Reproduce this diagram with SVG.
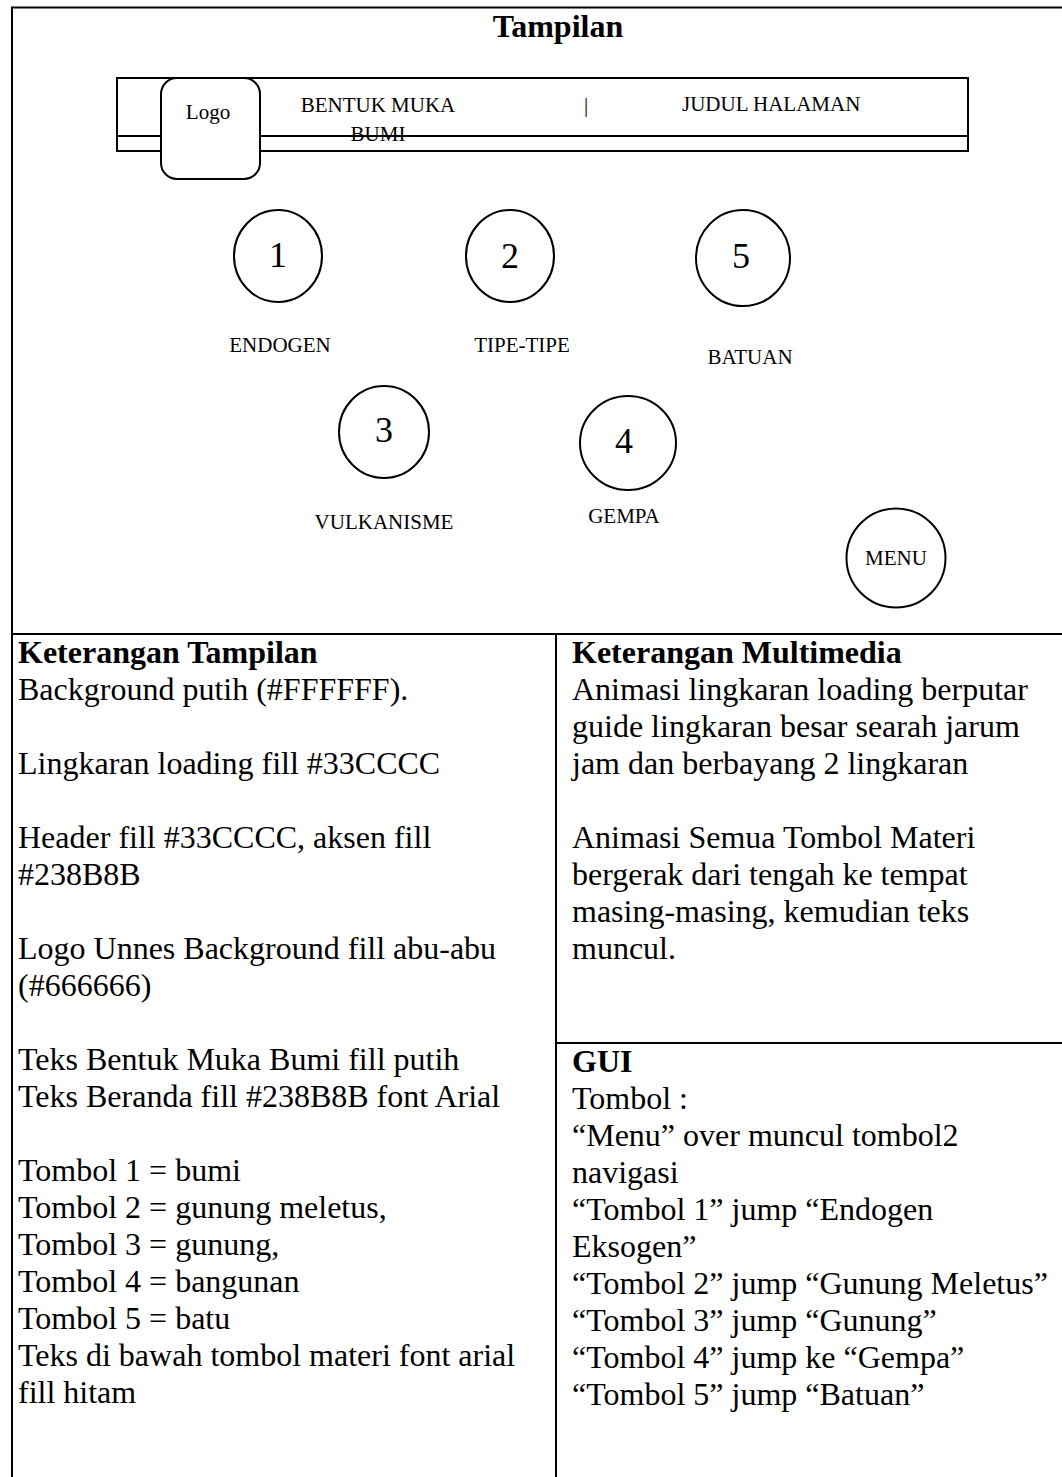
<svg xmlns="http://www.w3.org/2000/svg" width="1062" height="1477" viewBox="0 0 1062 1477">
  <style>
    .line { stroke: #000; stroke-width: 2; fill: none; }
    .shape { stroke: #000; stroke-width: 2; fill: #fff; }
    .lbl { font-family: "Liberation Serif", "Times New Roman", serif; font-size: 21px; fill: #000; }
    .num { font-family: "Liberation Serif", "Times New Roman", serif; font-size: 36px; fill: #000; text-anchor: middle; }
    .mid { text-anchor: middle; }
    .body { font-family: "Liberation Serif", "Times New Roman", serif; font-size: 32px; fill: #000; }
    .head { font-family: "Liberation Serif", "Times New Roman", serif; font-size: 32px; font-weight: bold; fill: #000; }
  </style>

  <rect x="0" y="0" width="1062" height="1477" fill="#fff"/>

  <!-- table grid -->
  <g id="table">
    <path class="line" d="M12 1477 V7.5 H1062"/>
    <path class="line" d="M12 634 H1062"/>
    <path class="line" d="M556 634 V1477"/>
    <path class="line" d="M556 1043 H1062"/>
  </g>

  <text class="head mid" x="558" y="37">Tampilan</text>

  <!-- header bar -->
  <g id="header">
    <rect class="shape" x="117" y="78" width="851" height="73"/>
    <path class="line" d="M117 136 H968"/>
    <text class="lbl mid" x="378" y="112">BENTUK MUKA</text>
    <text class="lbl mid" x="378" y="141">BUMI</text>
    <text class="lbl" x="584" y="112">|</text>
    <text class="lbl" x="682" y="111">JUDUL HALAMAN</text>
  </g>

  <g id="logo">
    <rect class="shape" x="161" y="78" width="99" height="101" rx="16"/>
    <text class="lbl mid" x="208" y="119">Logo</text>
  </g>

  <!-- material buttons -->
  <g id="btn1">
    <ellipse class="shape" cx="278" cy="256" rx="44" ry="46"/>
    <text class="num" x="278" y="267">1</text>
    <text class="lbl mid" x="280" y="352">ENDOGEN</text>
  </g>
  <g id="btn2">
    <ellipse class="shape" cx="510" cy="256" rx="44" ry="46"/>
    <text class="num" x="510" y="268">2</text>
    <text class="lbl mid" x="522" y="352">TIPE-TIPE</text>
  </g>
  <g id="btn5">
    <ellipse class="shape" cx="743" cy="258" rx="47" ry="48"/>
    <text class="num" x="741" y="268">5</text>
    <text class="lbl mid" x="750" y="364">BATUAN</text>
  </g>
  <g id="btn3">
    <ellipse class="shape" cx="384" cy="432" rx="45" ry="46"/>
    <text class="num" x="384" y="442">3</text>
    <text class="lbl mid" x="384" y="529">VULKANISME</text>
  </g>
  <g id="btn4">
    <ellipse class="shape" cx="628" cy="443" rx="48" ry="47"/>
    <text class="num" x="624" y="453">4</text>
    <text class="lbl mid" x="624" y="523">GEMPA</text>
  </g>
  <g id="menu">
    <circle class="shape" cx="896" cy="558" r="49.5"/>
    <text class="lbl mid" x="896" y="565">MENU</text>
  </g>

  <!-- notes: display -->
  <g id="notes-display">
    <text class="head" x="18" y="663">Keterangan Tampilan</text>
    <text class="body" x="18" y="700">Background putih (#FFFFFF).</text>
    <text class="body" x="18" y="774">Lingkaran loading fill #33CCCC</text>
    <text class="body" x="18" y="848">Header fill #33CCCC, aksen fill</text>
    <text class="body" x="18" y="885">#238B8B</text>
    <text class="body" x="18" y="959">Logo Unnes Background fill abu-abu</text>
    <text class="body" x="18" y="996">(#666666)</text>
    <text class="body" x="18" y="1070">Teks Bentuk Muka Bumi fill putih</text>
    <text class="body" x="18" y="1107">Teks Beranda fill #238B8B font Arial</text>
    <text class="body" x="18" y="1181">Tombol 1 = bumi</text>
    <text class="body" x="18" y="1218">Tombol 2 = gunung meletus,</text>
    <text class="body" x="18" y="1255">Tombol 3 = gunung,</text>
    <text class="body" x="18" y="1292">Tombol 4 = bangunan</text>
    <text class="body" x="18" y="1329">Tombol 5 = batu</text>
    <text class="body" x="18" y="1366">Teks di bawah tombol materi font arial</text>
    <text class="body" x="18" y="1403">fill hitam</text>
  </g>

  <!-- notes: multimedia -->
  <g id="notes-multimedia">
    <text class="head" x="572" y="663">Keterangan Multimedia</text>
    <text class="body" x="572" y="700">Animasi lingkaran loading berputar</text>
    <text class="body" x="572" y="737">guide lingkaran besar searah jarum</text>
    <text class="body" x="572" y="774">jam dan berbayang 2 lingkaran</text>
    <text class="body" x="572" y="848">Animasi Semua Tombol Materi</text>
    <text class="body" x="572" y="885">bergerak dari tengah ke tempat</text>
    <text class="body" x="572" y="922">masing-masing, kemudian teks</text>
    <text class="body" x="572" y="959">muncul.</text>
  </g>

  <!-- notes: GUI -->
  <g id="notes-gui">
    <text class="head" x="572" y="1072">GUI</text>
    <text class="body" x="572" y="1109">Tombol :</text>
    <text class="body" x="572" y="1146">“Menu” over muncul tombol2</text>
    <text class="body" x="572" y="1183">navigasi</text>
    <text class="body" x="572" y="1220">“Tombol 1” jump “Endogen</text>
    <text class="body" x="572" y="1257">Eksogen”</text>
    <text class="body" x="572" y="1294">“Tombol 2” jump “Gunung Meletus”</text>
    <text class="body" x="572" y="1331">“Tombol 3” jump “Gunung”</text>
    <text class="body" x="572" y="1368">“Tombol 4” jump ke “Gempa”</text>
    <text class="body" x="572" y="1405">“Tombol 5” jump “Batuan”</text>
  </g>
</svg>
